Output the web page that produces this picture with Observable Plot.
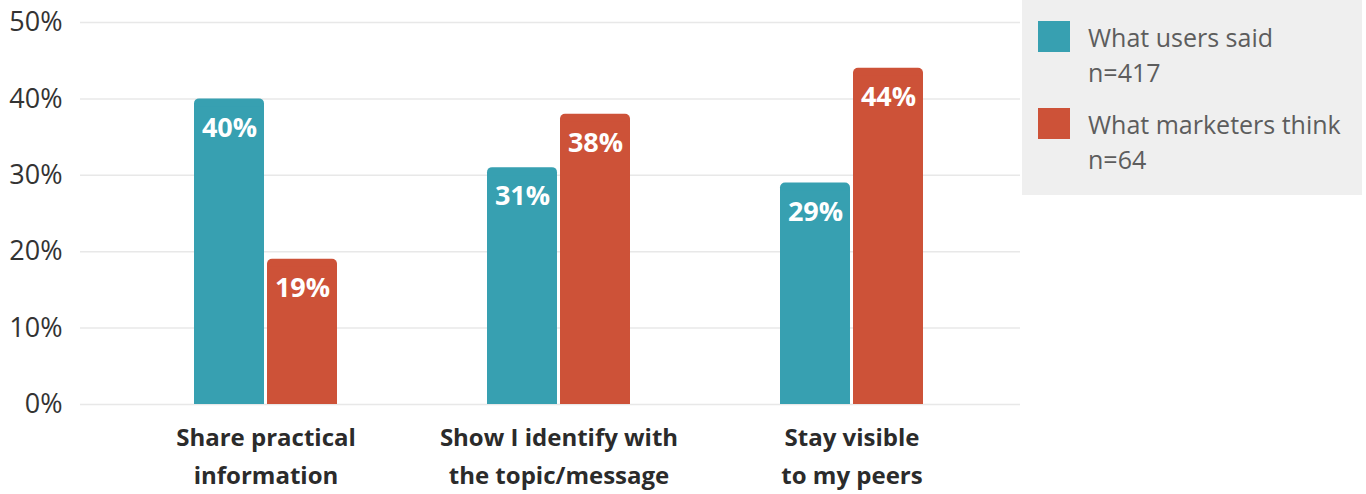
<!DOCTYPE html>
<html>
<head>
<meta charset="utf-8">
<script src="https://cdn.jsdelivr.net/npm/d3@7"></script>
<script src="https://cdn.jsdelivr.net/npm/@observablehq/plot@0.6"></script>
<style>
  html, body { margin: 0; padding: 0; background: #ffffff; }
  #wrap { position: relative; width: 1366px; height: 494px; overflow: hidden; font-family: "Open Sans", Lato, sans-serif; }
  #legend { position: absolute; left: 1022px; top: 0px; width: 340px; height: 195px; background: #efefef; }
  .item { position: absolute; left: 16px; }
  .sw { position: absolute; left: 0; top: 0; width: 32px; height: 31px; }
  .lt { position: absolute; left: 50px; top: -1px; white-space: nowrap; font-size: 25px; line-height: 35px; color: #5d5d5d; }
</style>
</head>
<body>
<div id="wrap"><div id="chart"></div><div id="legend"></div></div>
<script>
const categories = ["Share practical information", "Show I identify with the topic/message", "Stay visible to my peers"];
const categoryLines = [["Share practical", "information"], ["Show I identify with", "the topic/message"], ["Stay visible", "to my peers"]];
const usersSaid = [40, 31, 29];
const marketersThink = [19, 38, 44];
const yTicks = [0, 10, 20, 30, 40, 50];
const seriesNames = ["What users said", "What marketers think"];
const seriesN = ["n=417", "n=64"];
const seriesColors = ["#37a0b1", "#cd5238"];

const data = categories.map((c, i) => ({category: c, users: usersSaid[i], marketers: marketersThink[i], lines: categoryLines[i]}));

const bw = 143, gap = 3, inset = (bw + gap) / 2, offset = (bw + gap) / 4;

const chart = Plot.plot({
  width: 1366,
  height: 494,
  marginLeft: 80,
  marginRight: 346,
  marginTop: 22,
  marginBottom: 90,
  x: {domain: categories, range: [118, 999], paddingInner: 0.513, paddingOuter: 0.2565, axis: null},
  y: {domain: [0, 50], axis: null},
  style: {fontFamily: "'Open Sans', Lato, sans-serif", background: "transparent", overflow: "visible"},
  marks: [
    Plot.ruleY(yTicks, {stroke: "#e8e8e8", strokeWidth: 1.5}),
    Plot.axisY(yTicks, {tickSize: 0, tickPadding: 18, tickFormat: d => d + "%", fontSize: 27, fill: "#333333", label: null}),
    // users bars (rounded top, square bottom)
    Plot.barY(data, {x: "category", y: "users", fill: seriesColors[0], insetRight: inset, rx: 5}),
    Plot.barY(data, {x: "category", y: "users", fill: seriesColors[0], insetRight: inset, insetTop: 8}),
    // marketers bars
    Plot.barY(data, {x: "category", y: "marketers", fill: seriesColors[1], insetLeft: inset, rx: 5}),
    Plot.barY(data, {x: "category", y: "marketers", fill: seriesColors[1], insetLeft: inset, insetTop: 8}),
    Plot.text(data, {x: "category", y: "users", text: d => d.users + "%", dx: -offset, dy: 29, fill: "white", fontWeight: "bold", fontSize: 27, letterSpacing: "0.5px"}),
    Plot.text(data, {x: "category", y: "marketers", text: d => d.marketers + "%", dx: offset, dy: 29, fill: "white", fontWeight: "bold", fontSize: 27, letterSpacing: "0.5px"}),
    Plot.text(data, {x: "category", frameAnchor: "bottom", text: d => d.lines.join("\n"), lineAnchor: "top", dy: 15, lineHeight: 1.58, fontSize: 24, fontWeight: "bold", fill: "#2b2b2b"})
  ]
});
document.getElementById("chart").appendChild(chart);

const legend = document.getElementById("legend");
seriesNames.forEach((name, i) => {
  const item = document.createElement("div");
  item.className = "item";
  item.style.top = (21 + i * 87) + "px";
  const sw = document.createElement("div");
  sw.className = "sw";
  sw.style.background = seriesColors[i];
  const lt = document.createElement("div");
  lt.className = "lt";
  lt.innerHTML = name + "<br>" + seriesN[i];
  item.appendChild(sw);
  item.appendChild(lt);
  legend.appendChild(item);
});
</script>
</body>
</html>
